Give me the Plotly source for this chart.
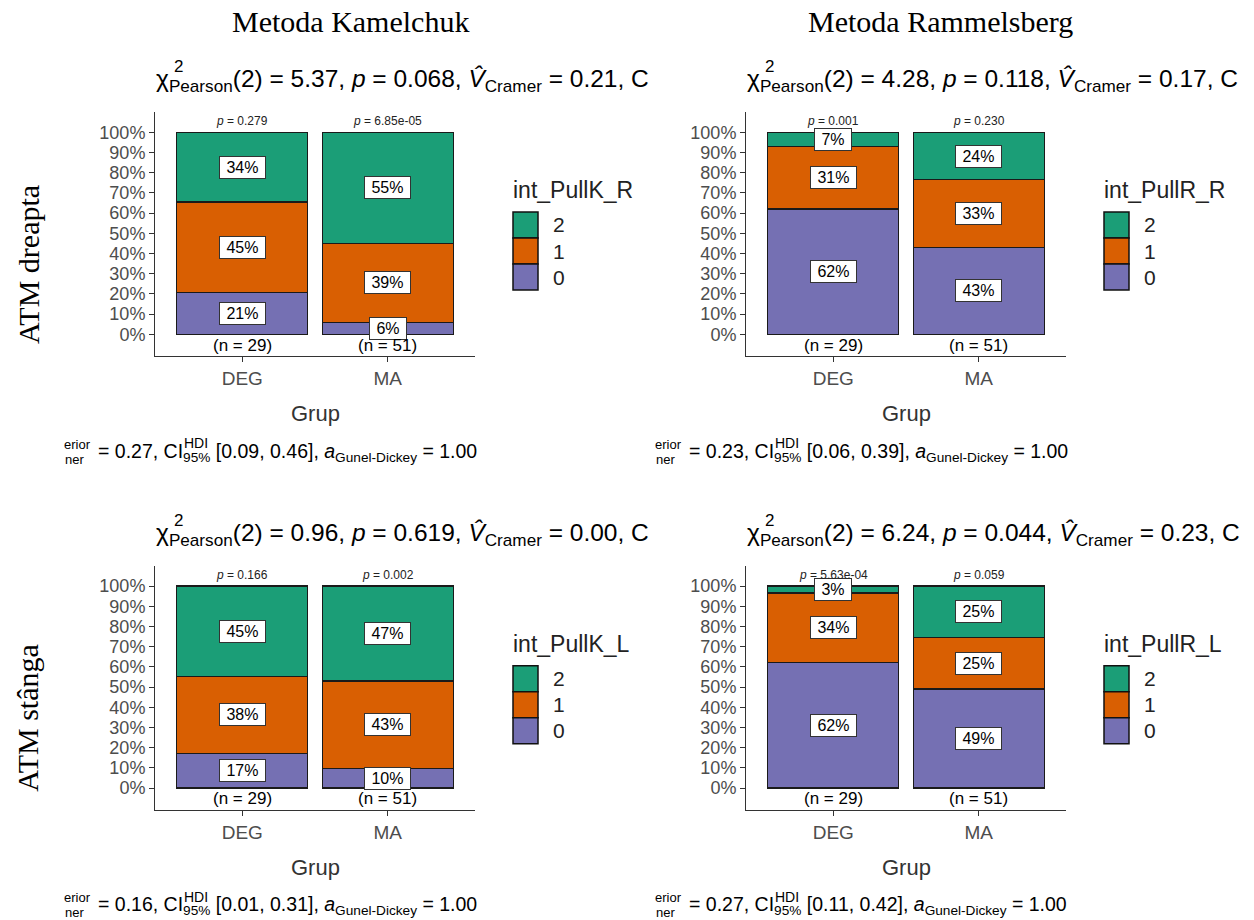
import plotly.graph_objects as go

W, H = 1254, 920

# ---------------- data ----------------
groups = ["DEG", "MA"]
levels = ["0", "1", "2"]
level_colors = ["#7570B3", "#D95F02", "#1B9E77"]

# counts for levels 0, 1, 2
kam_dr_deg = [6, 13, 10]
kam_dr_ma = [3, 20, 28]
ram_dr_deg = [18, 9, 2]
ram_dr_ma = [22, 17, 12]
kam_st_deg = [5, 11, 13]
kam_st_ma = [5, 22, 24]
ram_st_deg = [18, 10, 1]
ram_st_ma = [25, 13, 13]

pvals_kam_dr = ["0.279", "6.85e-05"]
pvals_ram_dr = ["0.001", "0.230"]
pvals_kam_st = ["0.166", "0.002"]
pvals_ram_st = ["5.63e-04", "0.059"]

chi_vals = ["5.37", "4.28", "0.96", "6.24"]
chi_p = ["0.068", "0.118", "0.619", "0.044"]
v_cramer = ["0.21", "0.17", "0.00", "0.23"]
v_post = ["0.27", "0.23", "0.16", "0.27"]
ci_low = ["0.09", "0.06", "0.01", "0.11"]
ci_high = ["0.46", "0.39", "0.31", "0.42"]

legend_titles = ["int_PullK_R", "int_PullR_R", "int_PullK_L", "int_PullR_L"]
col_titles = ["Metoda Kamelchuk", "Metoda Rammelsberg"]
row_titles = ["ATM dreapta", "ATM stânga"]
x_title = "Grup"

panels = [
    (0, 0, kam_dr_deg, kam_dr_ma, pvals_kam_dr),
    (1, 0, ram_dr_deg, ram_dr_ma, pvals_ram_dr),
    (0, 1, kam_st_deg, kam_st_ma, pvals_kam_st),
    (1, 1, ram_st_deg, ram_st_ma, pvals_ram_st),
]

SANS = "Liberation Sans, Arial, sans-serif"
SERIF = "Liberation Serif, Times New Roman, serif"
DX, DY = 591, 453.7


def px(x):
    return x / W


def py(y):
    return 1 - y / H


fig = go.Figure()
annotations = []
shapes = []


def note(x, y, text, size, color="black", family=SANS, xanchor="center", yanchor="middle", **kw):
    d = dict(x=px(x), y=py(y), xref="paper", yref="paper", showarrow=False,
             xanchor=xanchor, yanchor=yanchor, text=text,
             font=dict(family=family, size=size, color=color))
    d.update(kw)
    annotations.append(d)


for k, (col, row, deg, ma, pv) in enumerate(panels, start=1):
    dx, dy = col * DX, row * DY
    xa = "x" if k == 1 else f"x{k}"
    ya = "y" if k == 1 else f"y{k}"
    xname = "xaxis" if k == 1 else f"xaxis{k}"
    yname = "yaxis" if k == 1 else f"yaxis{k}"
    tot = [sum(deg), sum(ma)]
    cum = [0.0, 0.0]
    for li, lev in enumerate(levels):
        vals = [deg[li] / tot[0], ma[li] / tot[1]]
        fig.add_trace(go.Bar(
            x=groups, y=vals, xaxis=xa, yaxis=ya, width=0.9,
            marker=dict(color=level_colors[li], line=dict(color="#1a1a1a", width=1.2)),
            showlegend=False, hoverinfo="skip"))
        for gi, g in enumerate(groups):
            mid = cum[gi] + vals[gi] / 2
            cum[gi] += vals[gi]
            annotations.append(dict(
                x=g, y=mid, xref=xa, yref=ya, showarrow=False,
                xanchor="center", yanchor="middle",
                text="\u00a0" + f"{int(vals[gi] * 100 + 0.5)}%" + "\u00a0",
                font=dict(family=SANS, size=16, color="black"),
                bgcolor="white", bordercolor="#333333", borderwidth=1, borderpad=2))
    for gi, g in enumerate(groups):
        annotations.append(dict(
            x=g, y=-0.053, xref=xa, yref=ya, showarrow=False,
            xanchor="center", yanchor="middle",
            text=f"(n = {tot[gi]})", font=dict(family=SANS, size=17, color="black")))
        annotations.append(dict(
            x=g, y=1.054, xref=xa, yref=ya, showarrow=False,
            xanchor="center", yanchor="middle",
            text=f"<i>p</i> = {pv[gi]}", font=dict(family=SANS, size=12, color="#222222")))

    fig.layout[xname] = dict(
        domain=[px(155 + dx), px(475 + dx)], anchor=ya, type="category",
        range=[-0.6, 1.6], showline=True, linecolor="#333333", linewidth=1,
        ticks="outside", ticklen=5, tickcolor="#333333", showgrid=False,
        tickfont=dict(family=SANS, size=19, color="#4d4d4d"), fixedrange=True)
    fig.layout[yname] = dict(
        domain=[py(356 + dy), py(112 + dy)], anchor=xa,
        range=[-0.1074, 1.1005], showline=True, linecolor="#333333", linewidth=1,
        ticks="outside", ticklen=5, tickcolor="#333333", showgrid=False, zeroline=False,
        tickvals=[i / 10 for i in range(11)], ticktext=[f"{i * 10}%" for i in range(11)],
        tickfont=dict(family=SANS, size=18, color="#4d4d4d"), fixedrange=True)

    # axis title
    note(315 + dx, 414 + dy, x_title, 22, color="#333333")

    # subtitle
    i = k - 1
    note(154 + dx, 81 + dy,
         (f"χ<sub>Pearson</sub>(2) = {chi_vals[i]}, <i>p</i> = {chi_p[i]}, "
          f"<i>V\u0302</i><sub>Cramer</sub> = {v_cramer[i]}, C"),
         24.5, xanchor="left")
    note(172 + dx, 67 + dy, "2", 17, xanchor="left")

    # caption
    note(62 + dx, 444 + dy, "erior", 13, xanchor="left")
    note(63 + dx, 459 + dy, "ner", 13, xanchor="left")
    note(96 + dx, 452 + dy,
         (f"= {v_post[i]}, CI<sub>95%</sub> [{ci_low[i]}, {ci_high[i]}], "
          f"<i>a</i><sub>Gunel-Dickey</sub> = 1.00"),
         19.5, xanchor="left")
    note(182 + dx, 443 + dy, "HDI", 14, xanchor="left")

    # legend
    note(511 + dx, 190 + dy, legend_titles[i], 23, color="#222222", xanchor="left")
    key_top = [212, 238, 264]
    for j, li in enumerate([2, 1, 0]):
        shapes.append(dict(
            type="rect", xref="paper", yref="paper",
            x0=px(513 + dx), x1=px(538 + dx),
            y0=py(key_top[j] + 26 + dy), y1=py(key_top[j] + dy),
            fillcolor=level_colors[li], line=dict(color="#111111", width=1.5)))
        note(551 + dx, key_top[j] + 13 + dy, levels[li], 21, color="#222222", xanchor="left")

# column and row headers
for c, t in enumerate(col_titles):
    note(350 + c * 590, 22, t, 30, family=SERIF)
for r, t in enumerate(row_titles):
    note(28, 265 + r * DY, t, 30, family=SERIF, textangle=-90)

fig.update_layout(
    width=W, height=H, margin=dict(l=0, r=0, t=0, b=0),
    barmode="stack", bargap=0.1,
    paper_bgcolor="white", plot_bgcolor="white",
    annotations=annotations, shapes=shapes, showlegend=False)

fig.write_html("out.html", config={"displayModeBar": False},
               post_script="document.body.style.margin='0px';document.body.style.overflow='hidden';")
